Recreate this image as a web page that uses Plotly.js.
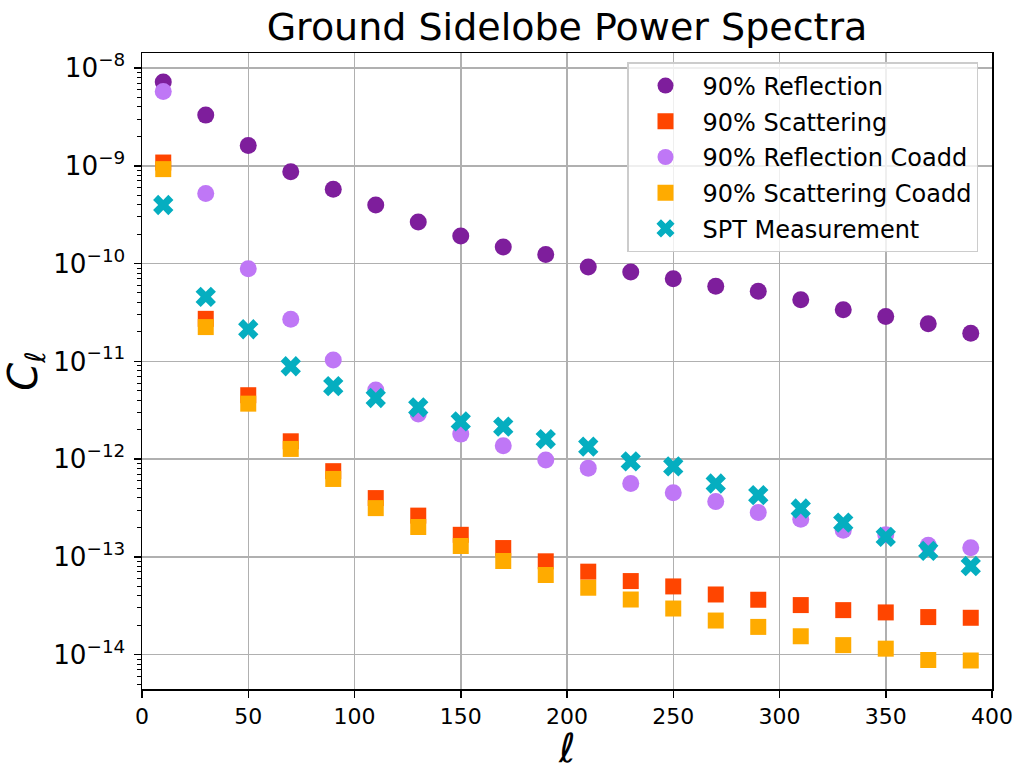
<!DOCTYPE html>
<html>
<head>
<meta charset="utf-8">
<script src="https://cdn.plot.ly/plotly-3.0.1.min.js"></script>
<style>html,body{margin:0;padding:0;background:#fff;}#chart{width:1016px;height:769px;}</style>
</head>
<body>
<div id="chart"></div>
<script>
const ell = [10,30,50,70,90,110,130,150,170,190,210,230,250,270,290,310,330,350,370,390];
const reflection = [7.2e-9,3.3e-9,1.61e-9,8.7e-10,5.75e-10,3.97e-10,2.66e-10,1.91e-10,1.48e-10,1.24e-10,9.24e-11,8.2e-11,7.0e-11,5.85e-11,5.2e-11,4.27e-11,3.37e-11,2.87e-11,2.42e-11,1.94e-11];
const scattering = [1.08e-9,2.72e-11,4.5e-12,1.52e-12,7.52e-13,3.99e-13,2.64e-13,1.68e-13,1.23e-13,9.0e-14,7.05e-14,5.65e-14,4.98e-14,4.12e-14,3.64e-14,3.21e-14,2.85e-14,2.70e-14,2.42e-14,2.38e-14];
const reflectionCoadd = [5.75e-9,5.2e-10,8.85e-11,2.7e-11,1.03e-11,5.08e-12,2.89e-12,1.80e-12,1.37e-12,9.77e-13,8.08e-13,5.63e-13,4.52e-13,3.68e-13,2.84e-13,2.43e-13,1.87e-13,1.68e-13,1.31e-13,1.24e-13];
const scatteringCoadd = [9.25e-10,2.24e-11,3.69e-12,1.27e-12,6.26e-13,3.15e-13,2.02e-13,1.29e-13,9.06e-14,6.52e-14,4.83e-14,3.66e-14,2.96e-14,2.23e-14,1.92e-14,1.54e-14,1.25e-14,1.15e-14,8.8e-15,8.7e-15];
const spt = [3.97e-10,4.57e-11,2.13e-11,8.9e-12,5.58e-12,4.22e-12,3.38e-12,2.43e-12,2.15e-12,1.60e-12,1.34e-12,9.46e-13,8.41e-13,5.63e-13,4.28e-13,3.12e-13,2.24e-13,1.60e-13,1.15e-13,8.05e-14];

const seriesNames = ['90% Reflection','90% Scattering','90% Reflection Coadd','90% Scattering Coadd','SPT Measurement'];
const seriesValues = [reflection, scattering, reflectionCoadd, scatteringCoadd, spt];
const colors = ['#7E1E9C','#FF4500','#BF77F6','#FFAB00','#05AEC0'];
const symbols = ['circle','square','circle','square','x'];
const sizes = [17,16,17,16,18];
const xTitle = '<i>ℓ</i>';
const yTitle = '<i>C</i><sub><i>ℓ</i></sub>';

const FONT = 'DejaVu Sans, Liberation Sans, sans-serif';

const traces = seriesNames.map((n,i)=>({
  type:'scatter', mode:'markers', name:n, x:ell, y:seriesValues[i],
  legendgroup:'g'+i,
  marker:{color:colors[i], symbol:symbols[i], size:sizes[i], line:{width:0}}
}));

const layout = {
  width:1016, height:769,
  margin:{l:142, r:24, t:53, b:80},
  paper_bgcolor:'#fff', plot_bgcolor:'#fff',
  font:{family:FONT, color:'#000'},
  title:{text:'Ground Sidelobe Power Spectra', font:{size:38, family:FONT, color:'#000'},
         x:0.5, xref:'paper', xanchor:'center', y:1-27/769, yref:'container', yanchor:'middle'},
  showlegend:true,
  legend:{x:(627-142)/850, xanchor:'left', y:(689-62)/636, yanchor:'top',
          bgcolor:'rgba(255,255,255,0.8)', bordercolor:'#cccccc', borderwidth:1.5,
          font:{size:24, family:FONT, color:'#000'}, tracegroupgap:1.5, itemwidth:64},
  annotations:[{text:xTitle, xref:'paper', yref:'paper', x:0.5, xanchor:'center',
                y:(689-723)/636, yanchor:'top', showarrow:false,
                font:{size:40, family:FONT, color:'#000'}}],
  xaxis:{range:[0,400], dtick:50, tick0:0, showgrid:true, gridcolor:'#b0b0b0', gridwidth:1.5,
         zeroline:false, showline:true, linecolor:'#000', linewidth:1.5, mirror:true,
         ticks:'outside', ticklen:7, tickwidth:1.5, tickcolor:'#000',
         tickfont:{size:22, family:FONT, color:'#000'}},
  yaxis:{type:'log', range:[-14.352,-7.846], dtick:1, exponentformat:'power', showexponent:'all',
         showgrid:true, gridcolor:'#b0b0b0', gridwidth:1.5,
         zeroline:false, showline:true, linecolor:'#000', linewidth:1.5, mirror:true,
         ticks:'outside', ticklen:7, tickwidth:1.5, tickcolor:'#000', ticklabelstandoff:4,
         tickfont:{size:21, family:FONT, color:'#000'},
         minor:{ticks:'outside', ticklen:4, tickwidth:1, tickcolor:'#000', dtick:'D1', showgrid:false},
         title:{text:yTitle, font:{size:40, family:FONT, color:'#000'}, standoff:10}}
};

Plotly.newPlot('chart', traces, layout, {displayModeBar:false, staticPlot:true});
</script>
</body>
</html>
